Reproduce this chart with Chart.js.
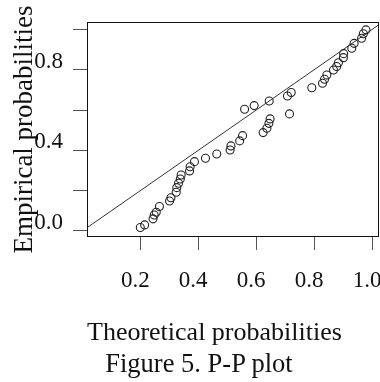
<!DOCTYPE html>
<html>
<head>
<meta charset="utf-8">
<script src="https://cdn.jsdelivr.net/npm/chart.js@4/dist/chart.umd.min.js"></script>
<style>
    body { margin: 0; background: #fff; }
    #wrap { position: relative; width: 380px; height: 382px; }
    #caption {
        position: absolute; left: 0; top: 350px; width: 380px; box-sizing: border-box;
        padding-left: 18px; text-align: center;
        font: 26.5px/26px "Liberation Serif", serif; color: #111;
    }
</style>
</head>
<body>
<div id="wrap">
    <canvas id="ppChart" width="380" height="382"></canvas>
    <div id="caption">Figure 5. P-P plot</div>
</div>
<script>
// P-P plot values
const theoretical = [0.200, 0.215, 0.244, 0.248, 0.255, 0.266, 0.301, 0.306, 0.324, 0.326,
    0.332, 0.338, 0.341, 0.370, 0.372, 0.387, 0.425, 0.464, 0.510, 0.513,
    0.543, 0.553, 0.560, 0.593, 0.624, 0.637, 0.644, 0.648, 0.645, 0.708,
    0.721, 0.715, 0.792, 0.829, 0.836, 0.844, 0.867, 0.878, 0.884, 0.901,
    0.902, 0.930, 0.938, 0.964, 0.970, 0.979];
const empirical = [0.017, 0.030, 0.060, 0.079, 0.093, 0.121, 0.149, 0.165, 0.192, 0.215,
    0.237, 0.258, 0.278, 0.298, 0.319, 0.344, 0.361, 0.382, 0.402, 0.422,
    0.447, 0.473, 0.604, 0.622, 0.488, 0.510, 0.534, 0.556, 0.645, 0.670,
    0.687, 0.581, 0.711, 0.733, 0.753, 0.774, 0.799, 0.816, 0.835, 0.860,
    0.880, 0.907, 0.931, 0.956, 0.979, 0.998];
// reference line y = x, clipped to the plot box
const refLine = [-0.1, 1.1];
const yTickLabels = ['0.0', '0.4', '0.8'];

const points = theoretical.map((x, i) => ({ x: x, y: empirical[i] }));
const line = refLine.map(v => ({ x: v, y: v }));

// draw the full box around the plot area like R does
const boxPlugin = {
    id: 'box',
    afterDraw(chart) {
        const a = chart.chartArea;
        const ctx = chart.ctx;
        ctx.save();
        ctx.strokeStyle = '#111';
        ctx.lineWidth = 1;
        ctx.strokeRect(a.left + 0.5, a.top + 0.5, a.right - a.left - 1, a.bottom - a.top - 1);
        ctx.restore();
    }
};

Chart.defaults.font.family = '"Liberation Serif", serif';
Chart.defaults.color = '#111';

const ctx = document.getElementById('ppChart').getContext('2d');
new Chart(ctx, {
    type: 'scatter',
    data: {
        datasets: [{
            data: points,
            pointStyle: 'circle',
            pointRadius: 4,
            borderColor: '#222',
            borderWidth: 1.1,
            backgroundColor: 'rgba(0,0,0,0)'
        }, {
            type: 'line',
            data: line,
            borderColor: '#333',
            borderWidth: 1,
            pointRadius: 0,
            fill: false
        }]
    },
    options: {
        responsive: false,
        animation: false,
        layout: { autoPadding: false, padding: { left: 0, top: 22, right: 1, bottom: 0 } },
        plugins: { legend: { display: false }, tooltip: { enabled: false } },
        scales: {
            x: {
                type: 'linear',
                min: 0.016,
                max: 1.024,
                afterFit: function(scale) {
                    scale.height = 145;
                    scale.paddingLeft = 0;
                    scale.paddingRight = 0;
                },
                border: { display: false },
                grid: { drawOnChartArea: false, drawTicks: true, tickLength: 13, color: '#555' },
                ticks: {
                    stepSize: 0.2,
                    includeBounds: false,
                    autoSkip: false,
                    maxRotation: 0,
                    padding: 17,
                    labelOffset: -5,
                    font: { size: 23 },
                    callback: value => value.toFixed(1)
                },
                title: {
                    display: true,
                    text: 'Theoretical probabilities',
                    align: 'start',
                    font: { size: 26 },
                    padding: { top: 0, bottom: 33 }
                }
            },
            y: {
                type: 'linear',
                min: -0.03,
                max: 1.037,
                afterFit: function(scale) {
                    scale.width = 87;
                    scale.paddingTop = 0;
                    scale.paddingBottom = 0;
                },
                border: { display: false },
                grid: { drawOnChartArea: false, drawTicks: true, tickLength: 14, color: '#555' },
                ticks: {
                    stepSize: 0.2,
                    includeBounds: false,
                    autoSkip: false,
                    padding: 10,
                    labelOffset: -8,
                    font: { size: 23 },
                    callback: function(value) {
                        const s = value.toFixed(1);
                        return yTickLabels.includes(s) ? s : '';
                    }
                },
                title: {
                    display: true,
                    text: 'Empirical probabilities',
                    font: { size: 27 },
                    padding: { top: 9, bottom: 0 }
                }
            }
        }
    },
    plugins: [boxPlugin]
});
</script>
</body>
</html>
